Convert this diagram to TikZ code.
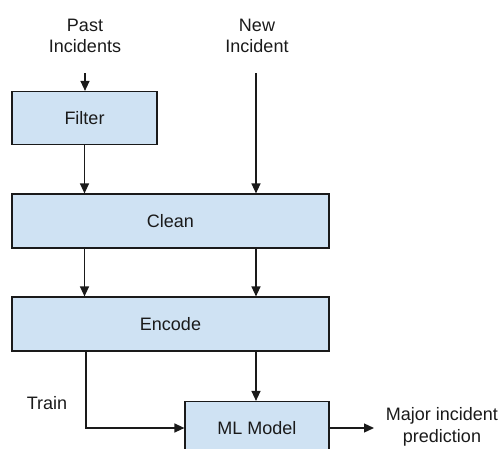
\documentclass[tikz,border=0pt]{standalone}
\usepackage{fontspec}
\setmainfont{Liberation Sans}
\usetikzlibrary{arrows.meta,calc}
\definecolor{boxfill}{HTML}{CFE2F3}
\definecolor{ink}{HTML}{1A1A1A}
\begin{document}
\begin{tikzpicture}[x=1pt,y=-1pt,
  every node/.style={font=\fontsize{18}{21.5}\selectfont, text=ink},
  box/.style={draw=ink, line width=1.2pt, fill=boxfill, rectangle, inner sep=0pt},
  lbl/.style={align=center, inner sep=0pt},
  arr/.style={draw=ink, line width=1.3pt, -{Triangle[length=10pt,width=9pt]}},
  ln/.style={draw=ink, line width=1.3pt}]
\useasboundingbox (0,0) rectangle (504,448);
\node[lbl] (past) at (85,36) {Past\\Incidents};
\node[lbl] (new) at (257,36) {New\\Incident};
\node[box, minimum width=145pt, minimum height=53pt] (filter) at (84.5,118) {Filter};
\node[box, minimum width=317pt, minimum height=54pt] (clean) at (170.5,221) {Clean};
\node[box, minimum width=317pt, minimum height=54pt] (encode) at (170.5,324) {Encode};
\node[box, minimum width=144pt, minimum height=53pt] (ml) at (257,428) {ML Model};
\node[lbl] (train) at (47,403) {Train};
\node[lbl] (out) at (442,427) {Major incident\\prediction};
\coordinate (outtip) at (374,428);
\coordinate (pastin) at (85,73);
\coordinate (newin) at (256,73);
\draw[arr] (pastin) -- (pastin |- filter.north);
\draw[arr] (newin) -- (newin |- clean.north);
\draw[arr] (filter.south) -- (filter.south |- clean.north);
\draw[arr] (clean.south -| filter.south) -- (encode.north -| filter.south);
\draw[arr] (clean.south -| newin) -- (encode.north -| newin);
\draw[arr] (encode.south -| newin) -- (newin |- ml.north);
\draw[arr] ([xshift=1.5pt]encode.south -| filter.south) |- (ml.west);
\draw[arr] (ml.east) -- (outtip);
\end{tikzpicture}
\end{document}
